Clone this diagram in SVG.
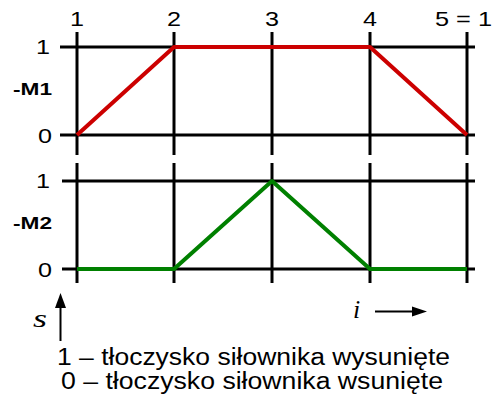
<svg xmlns="http://www.w3.org/2000/svg" width="500" height="401" viewBox="0 0 500 401">
<style>
.g{stroke:#000;stroke-width:3;fill:none}
.t{font-family:"Liberation Sans",Arial,sans-serif;font-size:21px;fill:#000}
.l{font-family:"Liberation Sans",Arial,sans-serif;font-size:23px;fill:#000}
.b{font-family:"Liberation Sans",Arial,sans-serif;font-size:17px;font-weight:bold;fill:#000}
.s{font-family:"Liberation Serif","Times New Roman",serif;font-size:26px;font-style:italic;fill:#000}
.a{stroke:#000;stroke-width:2;fill:none}
</style>
<g id="grid">
<line class="g" x1="60" y1="47" x2="475" y2="47"/>
<line class="g" x1="60" y1="135" x2="475" y2="135"/>
<line class="g" x1="62" y1="181" x2="475" y2="181"/>
<line class="g" x1="62" y1="269" x2="475" y2="269"/>
<g id="v1"><line class="g" x1="77" y1="32" x2="77" y2="155"/><line class="g" x1="77" y1="163" x2="77" y2="283"/></g>
<g id="v2"><line class="g" x1="174" y1="32" x2="174" y2="155"/><line class="g" x1="174" y1="163" x2="174" y2="283"/></g>
<g id="v3"><line class="g" x1="272" y1="32" x2="272" y2="155"/><line class="g" x1="272" y1="163" x2="272" y2="283"/></g>
<g id="v4"><line class="g" x1="370" y1="32" x2="370" y2="155"/><line class="g" x1="370" y1="163" x2="370" y2="283"/></g>
<g id="v5"><line class="g" x1="467" y1="32" x2="467" y2="155"/><line class="g" x1="467" y1="163" x2="467" y2="283"/></g>
</g>
<g id="m1">
<polyline points="77,135 174,47 370,47 467,135" fill="none" stroke="#cc0000" stroke-width="4" stroke-linejoin="round"/>
</g>
<g id="m2">
<polyline points="77,269 174,269 272,181 370,269 467,269" fill="none" stroke="#008000" stroke-width="4" stroke-linejoin="round"/>
</g>
<g id="labels">
<text class="t" x="70" y="26" textLength="14" lengthAdjust="spacingAndGlyphs">1</text>
<text class="t" x="167" y="26" textLength="14" lengthAdjust="spacingAndGlyphs">2</text>
<text class="t" x="265" y="26" textLength="14" lengthAdjust="spacingAndGlyphs">3</text>
<text class="t" x="363" y="26" textLength="14" lengthAdjust="spacingAndGlyphs">4</text>
<text class="t" x="435" y="26" textLength="57" lengthAdjust="spacingAndGlyphs">5 = 1</text>
<text class="t" x="36" y="54" textLength="14" lengthAdjust="spacingAndGlyphs">1</text>
<text class="b" x="13" y="95" textLength="39" lengthAdjust="spacingAndGlyphs">-M1</text>
<text class="t" x="38" y="143" textLength="14" lengthAdjust="spacingAndGlyphs">0</text>
<text class="t" x="36" y="188" textLength="14" lengthAdjust="spacingAndGlyphs">1</text>
<text class="b" x="13" y="229" textLength="39" lengthAdjust="spacingAndGlyphs">-M2</text>
<text class="t" x="38" y="277" textLength="14" lengthAdjust="spacingAndGlyphs">0</text>
</g>
<g id="axes">
<line class="a" x1="60.5" y1="341" x2="60.5" y2="305"/>
<polygon points="60.5,293 66,308 55,308" fill="#000"/>
<text class="s" x="33" y="327" textLength="14" lengthAdjust="spacingAndGlyphs">s</text>
<line class="a" x1="375" y1="311.5" x2="414" y2="311.5"/>
<polygon points="427,311.5 412,306.5 412,316.5" fill="#000"/>
<text class="s" x="353" y="318">i</text>
</g>
<g id="legend">
<text class="l" x="57" y="365" textLength="393" lengthAdjust="spacingAndGlyphs">1 – tłoczysko siłownika wysunięte</text>
<text class="l" x="61" y="389" textLength="382" lengthAdjust="spacingAndGlyphs">0 – tłoczysko siłownika wsunięte</text>
</g>
</svg>
